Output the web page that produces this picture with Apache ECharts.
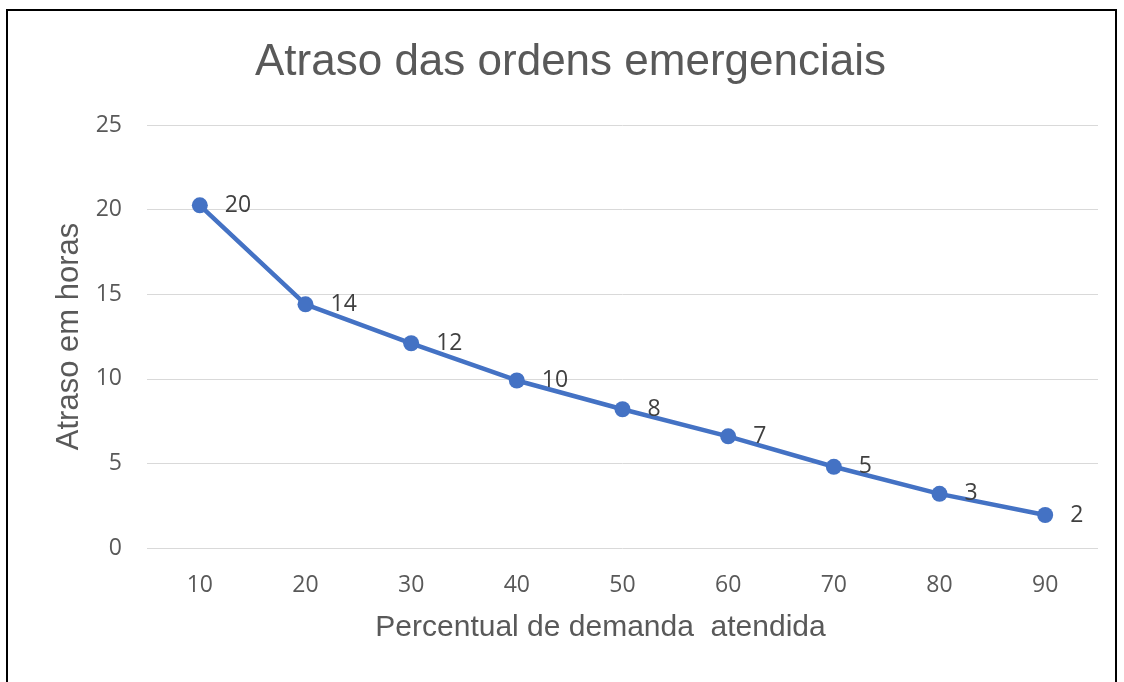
<!DOCTYPE html>
<html>
<head>
<meta charset="utf-8">
<script src="https://cdn.jsdelivr.net/npm/echarts@6/dist/echarts.min.js"></script>
<style>
  html, body { margin: 0; padding: 0; background: #fff; }
  #frame {
    position: absolute; left: 6px; top: 9px; width: 1111px; height: 700px;
    border: 2px solid #000; box-sizing: border-box;
  }
  #chart { position: absolute; left: 0; top: 0; width: 1124px; height: 682px; }
</style>
</head>
<body>
<div id="frame"></div>
<div id="chart"></div>
<script>
  // percentual de demanda atendida
  const categories = ['10', '20', '30', '40', '50', '60', '70', '80', '90']
  // atraso em horas
  const delays = [20.25, 14.4, 12.1, 9.9, 8.2, 6.6, 4.8, 3.2, 1.95]

  const chart = echarts.init(document.getElementById('chart'))
  const gray = '#595959'

  chart.setOption({
    animation: false,
    title: {
      text: 'Atraso das ordens emergenciais',
      left: 250,
      top: 36,
      textStyle: {
        fontFamily: '"Liberation Sans", Arial, sans-serif',
        fontSize: 44,
        fontWeight: 'normal',
        color: gray
      }
    },
    grid: { left: 147, right: 26, top: 125, bottom: 134 },
    xAxis: {
      type: 'category',
      data: categories,
      name: 'Percentual de demanda  atendida',
      nameLocation: 'middle',
      nameGap: 65,
      nameTextStyle: {
        fontFamily: '"Liberation Sans", Arial, sans-serif',
        fontSize: 30,
        color: gray,
        padding: [0, 44, 0, 0]
      },
      axisLine: { show: false },
      axisTick: { show: false },
      axisLabel: {
        margin: 26,
        fontFamily: '"Open Sans", sans-serif',
        fontSize: 23,
        color: gray
      }
    },
    yAxis: {
      type: 'value',
      min: 0,
      max: 25,
      interval: 5,
      name: 'Atraso em horas',
      nameLocation: 'middle',
      nameGap: 61,
      nameTextStyle: {
        fontFamily: '"Liberation Sans", Arial, sans-serif',
        fontSize: 31,
        color: gray
      },
      axisLabel: {
        margin: 25,
        fontFamily: '"Open Sans", sans-serif',
        fontSize: 23,
        color: gray
      },
      splitLine: { lineStyle: { color: '#d9d9d9', width: 1 } }
    },
    series: [{
      type: 'line',
      data: delays,
      symbol: 'circle',
      symbolSize: 16,
      lineStyle: { color: '#4472C4', width: 4.5 },
      itemStyle: { color: '#4472C4' },
      label: {
        show: true,
        position: 'right',
        distance: 17,
        fontFamily: '"Open Sans", sans-serif',
        fontSize: 23,
        color: '#404040',
        formatter: p => Math.round(p.value)
      }
    }]
  })
</script>
</body>
</html>
